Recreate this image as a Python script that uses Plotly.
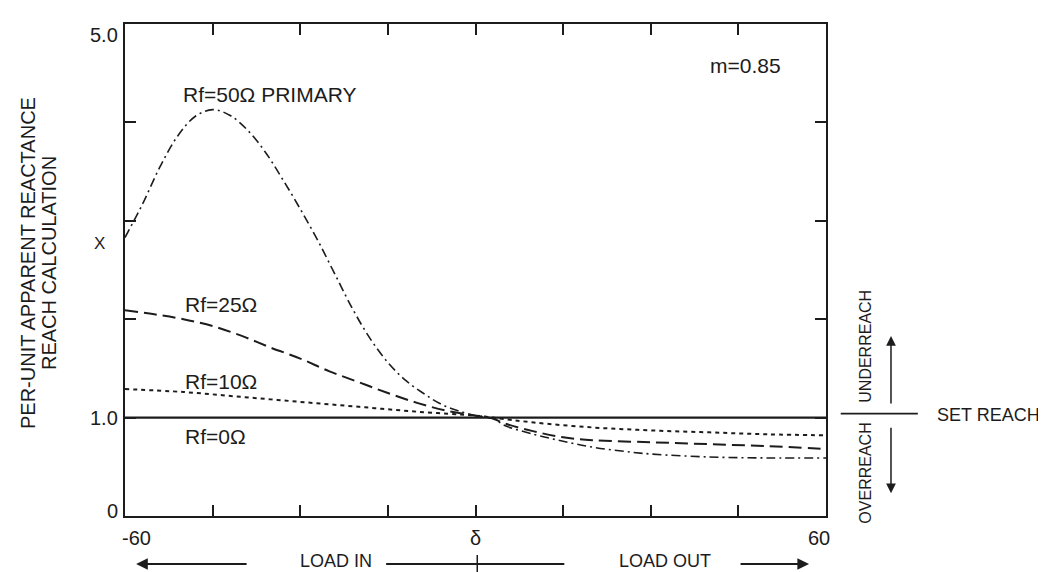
import plotly.graph_objects as go

# ---------------- data ----------------
angle_10 = [-60, -50, -40, -30, -20, -10, 0, 3, 10, 20, 30, 40, 50, 60]
x_rf10 = [1.29, 1.26, 1.21, 1.16, 1.11, 1.06, 1.02, 1.0, 0.95, 0.90, 0.87, 0.85, 0.83, 0.82]

angle_25 = [-60, -55, -50, -45, -40, -35, -30, -25, -20, -15, -10, -5, 0, 3, 5, 10, 15, 20, 30, 40, 50, 60]
x_rf25 = [2.09, 2.05, 2.0, 1.93, 1.83, 1.71, 1.60, 1.47, 1.36, 1.25, 1.15, 1.07, 1.02, 0.99,
          0.94, 0.86, 0.80, 0.77, 0.75, 0.73, 0.71, 0.68]

angle_50 = [-60, -57, -54, -51, -48, -45, -42, -39, -36, -33, -30, -27, -24, -21, -18, -15,
            -12, -9, -6, -3, 0, 3, 5, 10, 15, 20, 25, 30, 40, 50, 60]
x_rf50 = [2.83, 3.17, 3.55, 3.86, 4.06, 4.13, 4.07, 3.92, 3.70, 3.42, 3.12, 2.80, 2.45, 2.10,
          1.80, 1.56, 1.38, 1.25, 1.14, 1.07, 1.02, 0.99, 0.92, 0.83, 0.76, 0.70, 0.66, 0.63,
          0.60, 0.59, 0.59]

angle_0 = [-60, 60]
x_rf0 = [1.0, 1.0]

series_labels = ["Rf=0\u03a9", "Rf=10\u03a9", "Rf=25\u03a9", "Rf=50\u03a9 PRIMARY"]
label_pos_x = [-50.1, -50.1, -50.1, -50.4]
label_pos_y = [0.81, 1.37, 2.15, 4.28]

x_tick_marks = [-45, -30, -15, 0, 15, 30, 45]
x_label_vals = [-58.0, 0, 58.8]
x_label_text = ["-60", "\u03b4", "60"]
y_tick_marks = [1, 2, 3, 4]
y_label_vals = [0, 1, 5]
y_label_text = ["0", "1.0", "5.0"]

FONT = "Liberation Sans, Arial, Helvetica, sans-serif"
INK = "#1c1c1c"

PLOT_L, PLOT_W, PLOT_B, PLOT_H = 117, 701, 508, 492

fig = go.Figure()

fig.add_trace(go.Scatter(x=angle_0, y=x_rf0, mode="lines",
                         line=dict(color=INK, width=2.2), showlegend=False))
fig.add_trace(go.Scatter(x=angle_10, y=x_rf10, mode="lines", line_shape="spline",
                         line=dict(color=INK, width=2, dash="4px,4px"), showlegend=False))
fig.add_trace(go.Scatter(x=angle_25, y=x_rf25, mode="lines", line_shape="spline",
                         line=dict(color=INK, width=2, dash="13px,6px"), showlegend=False))
fig.add_trace(go.Scatter(x=angle_50, y=x_rf50, mode="lines", line_shape="spline",
                         line=dict(color=INK, width=1.6, dash="9px,4px,2px,4px"), showlegend=False))

ann = []
for t, lx, ly in zip(series_labels, label_pos_x, label_pos_y):
    ann.append(dict(x=lx, y=ly, xref="x", yref="y", text=t, showarrow=False,
                    xanchor="left", yanchor="middle", font=dict(size=21, color=INK)))

ann.append(dict(x=39.8, y=4.58, xref="x", yref="y", text="m=0.85", showarrow=False,
                xanchor="left", yanchor="middle", font=dict(size=21, color=INK)))

# y tick labels
y_shift = {0: 5, 1: 0, 5: -11}
for v, t in zip(y_label_vals, y_label_text):
    ann.append(dict(x=0, y=v, xref="paper", yref="y", text=t, showarrow=False,
                    xanchor="right", yanchor="middle", xshift=-5, yshift=y_shift[v],
                    font=dict(size=20, color=INK)))
# x tick labels
for v, t in zip(x_label_vals, x_label_text):
    ann.append(dict(x=v, y=-(530 - PLOT_B) / PLOT_H, xref="x", yref="paper", text=t,
                    showarrow=False, xanchor="center", yanchor="middle",
                    font=dict(size=20, color=INK)))

# y-axis variable and title
ann.append(dict(x=-0.036, y=2.77, xref="paper", yref="y", text="X", showarrow=False,
                xanchor="center", yanchor="middle", font=dict(size=17, color=INK)))
for txt, px in [("PER-UNIT APPARENT REACTANCE", 20), ("REACH CALCULATION", 41)]:
    ann.append(dict(x=(px - PLOT_L) / PLOT_W, y=(PLOT_B - 255) / PLOT_H, xref="paper",
                    yref="paper", text=txt, showarrow=False, textangle=-90,
                    xanchor="center", yanchor="middle", font=dict(size=20, color=INK)))

# right side annotations
ann.append(dict(x=1.057, y=1.73, xref="paper", yref="y", text="UNDERREACH", showarrow=False,
                textangle=-90, xanchor="center", yanchor="middle", font=dict(size=16, color=INK)))
ann.append(dict(x=1.057, y=0.44, xref="paper", yref="y", text="OVERREACH", showarrow=False,
                textangle=-90, xanchor="center", yanchor="middle", font=dict(size=16, color=INK)))
ann.append(dict(x=(927 - PLOT_L) / PLOT_W, y=1.03, xref="paper", yref="y", text="SET REACH",
                showarrow=False, xanchor="left", yanchor="middle",
                font=dict(size=18, color=INK)))
ann.append(dict(x=1.0927, y=1.83, xref="paper", yref="y", text="", showarrow=True,
                ax=0, ay=69, arrowhead=2, arrowsize=1.3, arrowwidth=1.5, arrowcolor=INK))
ann.append(dict(x=1.0927, y=0.23, xref="paper", yref="y", text="", showarrow=True,
                ax=0, ay=-67, arrowhead=2, arrowsize=1.3, arrowwidth=1.5, arrowcolor=INK))

# bottom load direction
yb = -(556 - PLOT_B) / PLOT_H
yt = -(553 - PLOT_B) / PLOT_H
ann.append(dict(x=-23.9, y=yt, xref="x", yref="paper", text="LOAD IN", showarrow=False,
                xanchor="center", yanchor="middle", borderpad=0,
                font=dict(size=18, color=INK)))
ann.append(dict(x=32.5, y=yt, xref="x", yref="paper", text="LOAD OUT", showarrow=False,
                xanchor="center", yanchor="middle", borderpad=0,
                font=dict(size=18, color=INK)))
ann.append(dict(x=-58.1, y=yb, xref="x", yref="paper", text="", showarrow=True,
                ax=112, ay=0, arrowhead=2, arrowsize=1.3, arrowwidth=1.8, arrowcolor=INK))
ann.append(dict(x=57.1, y=yb, xref="x", yref="paper", text="", showarrow=True,
                ax=-70, ay=0, arrowhead=2, arrowsize=1.3, arrowwidth=1.8, arrowcolor=INK))

shapes = [
    dict(type="line", xref="x", yref="paper", x0=-15.3, x1=15.2, y0=yb, y1=yb,
         line=dict(color=INK, width=1.8)),
    dict(type="line", xref="x", yref="paper", x0=0.3, x1=0.3, y0=yb + 9 / PLOT_H,
         y1=yb - 9 / PLOT_H, line=dict(color=INK, width=1.5)),
    dict(type="line", xref="paper", yref="y", x0=1.021, x1=1.131, y0=1.04, y1=1.04,
         line=dict(color=INK, width=1.8)),
]

fig.update_layout(
    width=1046, height=572,
    margin=dict(l=PLOT_L, r=1046 - PLOT_L - PLOT_W, t=PLOT_B - PLOT_H, b=572 - PLOT_B),
    paper_bgcolor="white", plot_bgcolor="white",
    font=dict(family=FONT, color=INK),
    annotations=ann, shapes=shapes, showlegend=False,
)
fig.update_xaxes(range=[-60, 60], tickvals=x_tick_marks, ticktext=[""] * len(x_tick_marks),
                 ticks="inside", ticklen=11, tickwidth=1.8, tickcolor=INK,
                 showline=True, linecolor=INK, linewidth=2, mirror="ticks",
                 showgrid=False, zeroline=False)
fig.update_yaxes(range=[0, 5], tickvals=y_tick_marks, ticktext=[""] * len(y_tick_marks),
                 ticks="inside", ticklen=11, tickwidth=1.8, tickcolor=INK,
                 showline=True, linecolor=INK, linewidth=2, mirror="ticks",
                 showgrid=False, zeroline=False)

fig.write_html("out.html")
